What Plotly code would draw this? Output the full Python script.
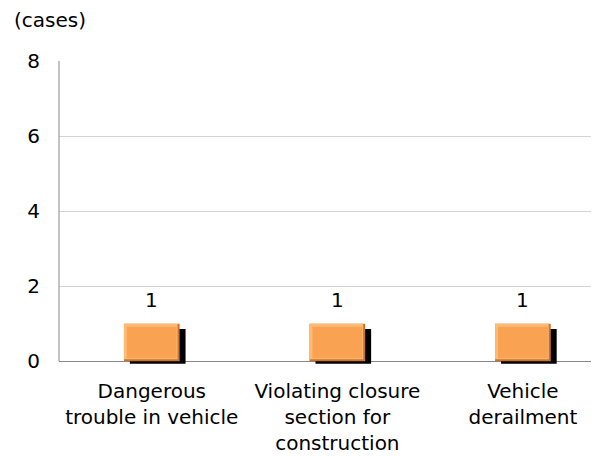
import plotly.graph_objects as go

# categories and counts
categories = ['Dangerous<br>trouble in vehicle',
              'Violating closure<br>section for<br>construction',
              'Vehicle<br>derailment']
counts = [1, 1, 1]
y_ticks = [0, 2, 4, 6, 8]

FONT = 'DejaVu Sans, Arial, sans-serif'
idx = list(range(len(categories)))
W = 0.3  # bar width in category units

fig = go.Figure()

# black drop shadow, shifted a little right and down
fig.add_trace(go.Bar(
    x=idx, y=[c * 0.93 for c in counts], base=-0.07,
    width=W, offset=-W / 2 + 0.032,
    marker=dict(color='black', line=dict(width=0)),
    hoverinfo='skip', showlegend=False,
))

# dark bevel edge (bottom / right)
fig.add_trace(go.Bar(
    x=idx, y=counts, width=W,
    marker=dict(color='#C8742E', line=dict(width=0)),
    showlegend=False,
))
# light bevel edge (top / left)
fig.add_trace(go.Bar(
    x=idx, y=[c * 0.95 for c in counts], base=[c * 0.05 for c in counts],
    width=W - 0.011, offset=-W / 2,
    marker=dict(color='#FDBA72', line=dict(width=0)),
    hoverinfo='skip', showlegend=False,
))
# orange face
fig.add_trace(go.Bar(
    x=idx, y=[c * 0.84 for c in counts], base=[c * 0.08 for c in counts],
    width=W - 0.032,
    marker=dict(color='#F8A252', line=dict(width=0)),
    hoverinfo='skip', showlegend=False,
))

for i, c in zip(idx, counts):
    fig.add_annotation(x=i, y=c, text=str(c), showarrow=False,
                       yanchor='middle', yshift=24,
                       font=dict(size=20, color='black', family=FONT))

fig.add_annotation(x=0, y=1, xref='paper', yref='paper', xanchor='left', yanchor='middle',
                   text='(cases)', showarrow=False, xshift=-47, yshift=41,
                   font=dict(size=20, color='black', family=FONT))

# left axis line from 0 to 8
fig.add_shape(type='line', xref='paper', yref='y', x0=0, x1=0, y0=0, y1=8,
              line=dict(color='#888888', width=1))

# page body adds an 8px margin, so the figure is 8px smaller than the window
fig.update_layout(
    width=591, height=448,
    margin=dict(l=51, r=0, t=53, b=91),
    plot_bgcolor='white', paper_bgcolor='white',
    barmode='overlay',
    font=dict(family=FONT, size=20, color='black'),
    xaxis=dict(tickmode='array', tickvals=idx, ticktext=categories,
               range=[-0.5, 2.41], showgrid=False, showline=False,
               ticks='', ticklabelstandoff=12, automargin=False, fixedrange=True),
    yaxis=dict(range=[-0.1, 8], tickvals=y_ticks, showgrid=True,
               gridcolor='#D4D4D4', gridwidth=1,
               zeroline=True, zerolinecolor='#888888', zerolinewidth=1,
               showline=False, ticks='', ticklabelstandoff=18, automargin=False),
)

fig.write_html("out.html")
